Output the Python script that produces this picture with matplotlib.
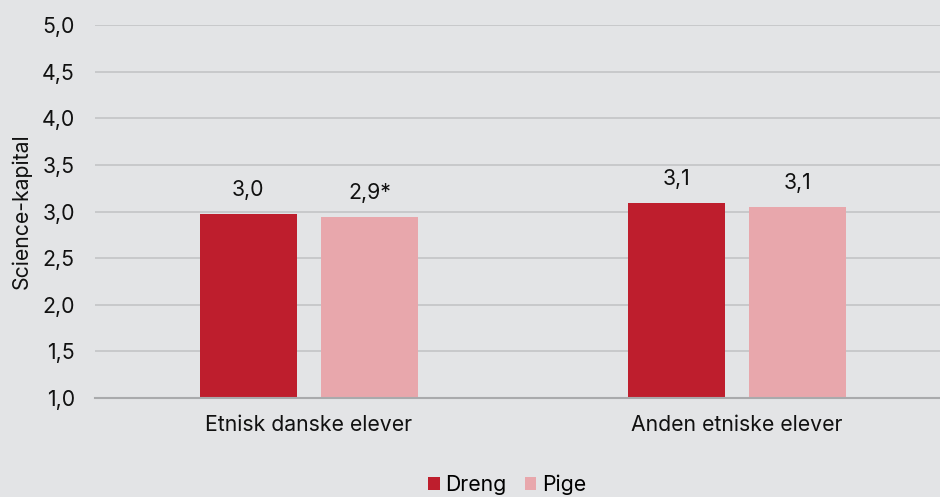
import matplotlib
matplotlib.use("Agg")
import matplotlib.pyplot as plt
import numpy as np

categories = ["Etnisk danske elever", "Anden etniske elever"]
series_names = ["Dreng", "Pige"]
dreng = [2.97, 3.09]
pige = [2.94, 3.05]
dreng_labels = ["3,0", "3,1"]
pige_labels = ["2,9*", "3,1"]
yticks = [1.0, 1.5, 2.0, 2.5, 3.0, 3.5, 4.0, 4.5, 5.0]
ytick_labels = ["1,0", "1,5", "2,0", "2,5", "3,0", "3,5", "4,0", "4,5", "5,0"]

plt.rcParams['font.family'] = ['Inter', 'DejaVu Sans']
bg = "#e3e4e6"
c_dreng = "#be1e2d"
c_pige = "#e8a7ac"
txt = "#111111"
fs = 15.3

fig = plt.figure(figsize=(9.4, 4.97), dpi=100, facecolor=bg)
ax = fig.add_axes([95/940, 1 - 398/497, 856/940, (398 - 25)/497])
ax.set_facecolor(bg)

x = np.arange(len(categories))
w = 0.227
off = 0.142
b1 = ax.bar(x - off, np.array(dreng) - 1.0, w, bottom=1.0, color=c_dreng, label=series_names[0], zorder=3)
b2 = ax.bar(x + off, np.array(pige) - 1.0, w, bottom=1.0, color=c_pige, label=series_names[1], zorder=3)

for rects, labs in ((b1, dreng_labels), (b2, pige_labels)):
    for r, lab in zip(rects, labs):
        ax.annotate(lab, (r.get_x() + r.get_width() / 2, r.get_y() + r.get_height()),
                    xytext=(0, 10), textcoords="offset points", ha="center", va="bottom",
                    fontsize=fs, color=txt)

ax.set_xlim(-0.5, 1.5)
ax.set_ylim(1.0, 5.0)
ax.set_yticks(yticks)
ax.set_yticklabels(ytick_labels, fontsize=fs, color=txt)
ax.set_xticks(x)
ax.set_xticklabels(categories, fontsize=fs, color=txt)
ax.tick_params(axis="both", length=0)
ax.tick_params(axis="y", pad=14.5)
ax.tick_params(axis="x", pad=12)
ax.grid(axis="y", color="#c6c7c9", linewidth=1.3, zorder=0)
for s in ("top", "right", "left"):
    ax.spines[s].set_visible(False)
ax.spines["bottom"].set_color("#a9aaac")
ax.spines["bottom"].set_linewidth(1.5)
ax.spines["bottom"].set_zorder(4)

ax.set_ylabel("Science-kapital", fontsize=fs, color=txt)
ax.yaxis.set_label_coords(-63/856, 0.5)

fig.legend(handles=[b1, b2], labels=series_names, loc="center", bbox_to_anchor=(507/940, 1 - 485/497),
           ncol=2, frameon=False, fontsize=fs, handlelength=0.56, handleheight=0.56,
           handletextpad=0.25, columnspacing=0.85, borderpad=0.2)

fig.savefig("out.png", dpi=100, facecolor=bg)
